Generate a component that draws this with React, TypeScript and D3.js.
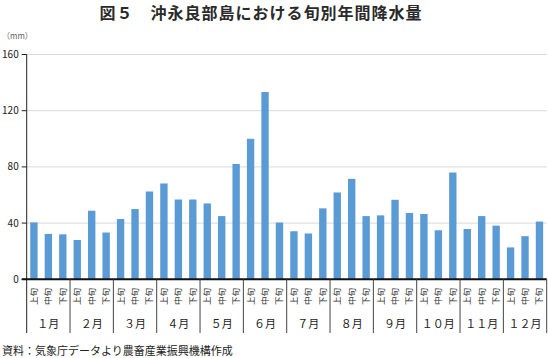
import React from "react";
import * as d3 from "d3";

const months = ["１月", "２月", "３月", "４月", "５月", "６月", "７月", "８月", "９月", "１０月", "１１月", "１２月"];
const periods = ["上旬", "中旬", "下旬"];
const values = [
  40.5, 32.3, 32, 28, 48.8, 33.3,
  42.9, 50, 62.5, 68.2, 56.8, 56.8,
  54, 45, 82.1, 100, 133.3, 40.4,
  34.2, 32.6, 50.5, 61.8, 71.5, 45,
  45.5, 56.6, 47.2, 46.5, 34.9, 76,
  35.8, 45, 38.2, 22.7, 30.7, 41.1,
];
const yTicks = [0, 40, 80, 120, 160];
const title = "図５　沖永良部島における旬別年間降水量";
const unit = "（mm）";
const source = "資料：気象庁データより農畜産業振興機構作成";

const W = 548, H = 358;
const left = 26.7, right = 546.7, top = 54.5, bottom = 279.3;
const font = "'Noto Sans CJK JP', sans-serif";

export default function App() {
  const keys = values.map((_, i) => String(i));
  const x = d3.scaleBand<string>().domain(keys).range([left, right]).paddingInner(0.49).paddingOuter(0.245);
  const bandAll = d3.scaleBand<string>().domain(keys).range([left, right]);
  const y = d3.scaleLinear().domain([0, 160]).range([bottom, top]);
  const step = bandAll.step();
  return (
    <svg width={W} height={H} style={{ position: "absolute", left: 0, top: 0, background: "#fff" }} fontFamily={font}>
      <text x={261} y={18.5} textAnchor="middle" fontSize={16} letterSpacing={1} fontWeight="bold" fill="#2a2a2a">{title}</text>
      <text x={2} y={39} fontSize={8} fill="#666">{unit}</text>
      {yTicks.map((t) => (
        <g key={t}>
          {t > 0 && <line x1={left} x2={right} y1={y(t)} y2={y(t)} stroke="#d9d9d9" strokeWidth={1} />}
          <line x1={left - 5} x2={left} y1={y(t)} y2={y(t)} stroke="#222" strokeWidth={1} />
          <text x={left - 8} y={y(t) + 3.5} textAnchor="end" fontSize={10} fill="#222">{t}</text>
        </g>
      ))}
      {values.map((v, i) => (
        <rect key={i} x={x(String(i))} y={y(v)} width={x.bandwidth()} height={y(0) - y(v)} fill="#5B9BD5" />
      ))}
      <line x1={left} x2={left} y1={top} y2={333} stroke="#222" strokeWidth={1} />
      <line x1={left - 5} x2={right} y1={bottom} y2={bottom} stroke="#111" strokeWidth={2} />
      {months.map((m, mi) => {
        const x0 = left + mi * 3 * step;
        return (
          <g key={m}>
            <line x1={x0 + 3 * step} x2={x0 + 3 * step} y1={bottom} y2={333} stroke="#444" strokeWidth={1} />
            <text x={x0 + 1.5 * step} y={328} textAnchor="middle" fontSize={11} fill="#222">{m}</text>
            {periods.map((p, pi) => {
              const cx = (bandAll(String(mi * 3 + pi)) as number) + step / 2;
              return (
                <text key={p} transform={`translate(${cx + 3},${288}) rotate(-90)`} textAnchor="end" fontSize={8.5} fill="#333">{p}</text>
              );
            })}
          </g>
        );
      })}
      <text x={2} y={355} fontSize={11} fill="#222">{source}</text>
    </svg>
  );
}
